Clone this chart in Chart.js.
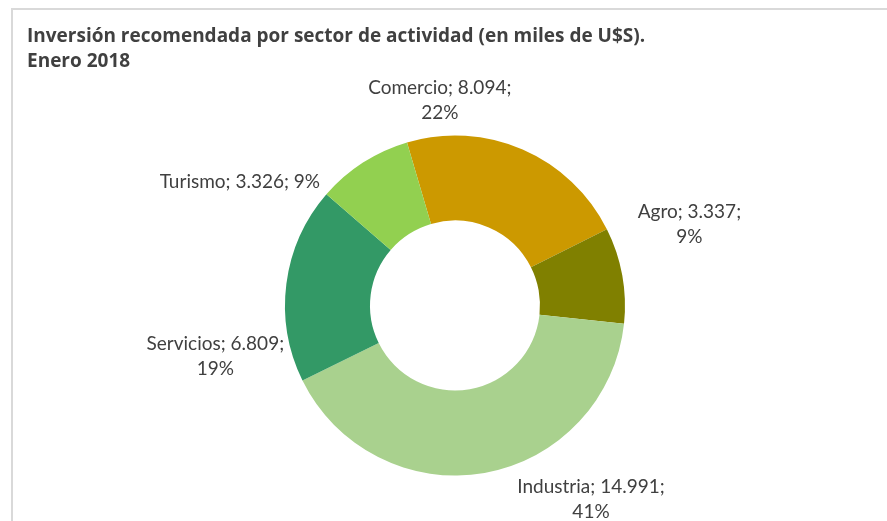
<!DOCTYPE html>
<html lang="es">
<head>
    <meta charset="UTF-8">
    <title>Inversión recomendada por sector</title>
    <style>
        body { margin: 0; overflow: hidden; background: #fff; }
        #wrap { position: absolute; left: 0; top: 0; width: 887px; height: 600px; }
        #frame {
            position: absolute; left: 11px; top: 8px; width: 900px; height: 600px;
            border-top: 2px solid #d9d9d9; border-left: 2px solid #d9d9d9;
            pointer-events: none;
        }
    </style>
</head>
<body>
    <div id="wrap">
        <canvas id="donut" width="887" height="600"></canvas>
    </div>
    <div id="frame"></div>

    <script src="https://cdn.jsdelivr.net/npm/chart.js"></script>
    <script>
        // Sectors, clockwise from the top
        const sectors = ['Comercio', 'Agro', 'Industria', 'Servicios', 'Turismo'];
        const amounts = [8094, 3337, 14991, 6809, 3326];   // miles de U$S
        const colors = ['#CC9900', '#808000', '#A9D18E', '#339966', '#92D050'];

        const titleLines = [
            'Inversión recomendada por sector de actividad (en miles de U$S).',
            'Enero 2018'
        ];

        // 8094 -> "8.094"
        const fmt = n => String(n).replace(/\B(?=(\d{3})+(?!\d))/g, '.');
        const total = amounts.reduce((a, b) => a + b, 0);

        // Labels sit outside the ring, shifted around the way Excel placed them
        const outsideLabels = {
            id: 'outsideLabels',
            afterDatasetsDraw(chart, args, opts) {
                const ctx = chart.ctx;
                const meta = chart.getDatasetMeta(0);
                ctx.save();
                ctx.font = opts.font;
                ctx.fillStyle = opts.color;
                ctx.textAlign = 'center';
                ctx.textBaseline = 'middle';
                meta.data.forEach((arc, i) => {
                    const p = arc.getProps(['x', 'y', 'startAngle', 'endAngle', 'outerRadius'], true);
                    const mid = (p.startAngle + p.endAngle) / 2 + opts.turn[i] * Math.PI / 180;
                    const r = p.outerRadius + opts.gap[i];
                    const cx = p.x + Math.cos(mid) * r;
                    const cy = p.y + Math.sin(mid) * r;
                    const pct = Math.round(amounts[i] / total * 100) + '%';
                    const head = sectors[i] + '; ' + fmt(amounts[i]) + ';';
                    const lines = opts.split[i] ? [head, pct] : [head + ' ' + pct];
                    const top = cy - (lines.length - 1) * opts.lineHeight / 2;
                    lines.forEach((t, k) => ctx.fillText(t, cx, top + k * opts.lineHeight));
                });
                ctx.restore();
            }
        };

        new Chart(document.getElementById('donut'), {
            type: 'doughnut',
            data: {
                labels: sectors,
                datasets: [{
                    data: amounts,
                    backgroundColor: colors,
                    borderWidth: 0
                }]
            },
            options: {
                responsive: false,
                animation: false,
                rotation: -16.4,
                radius: 170,
                cutout: '50%',
                layout: { padding: { left: 27, right: 4, top: 0, bottom: 73 } },
                plugins: {
                    legend: { display: false },
                    tooltip: { enabled: false },
                    title: {
                        display: true,
                        align: 'start',
                        text: titleLines,
                        color: '#404040',
                        font: { family: 'Open Sans', size: 19, weight: 'bold', lineHeight: '25px' },
                        padding: { top: 24, bottom: 10 }
                    },
                    outsideLabels: {
                        font: '19px Lato',
                        color: '#404040',
                        lineHeight: 25,
                        turn: [-27.7, -8.8, -25, -19.3, -27.4],
                        gap: [35.5, 78, 67, 75, 78],
                        split: [true, true, true, true, false]
                    }
                }
            },
            plugins: [outsideLabels]
        });
    </script>
</body>
</html>
